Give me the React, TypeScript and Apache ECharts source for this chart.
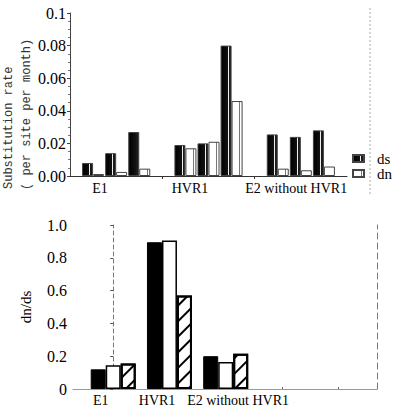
import React, { useEffect, useRef } from 'react';
import * as echarts from 'echarts';

// ---- data ----
const groups = ['E1', 'HVR1', 'E2 without HVR1'];
// substitution rates (per site per month), three pairs per group
const dsRates = [0.008, 0.014, 0.027, 0.019, 0.02, 0.08, 0.0255, 0.024, 0.028];
const dnRates = [0.0012, 0.0025, 0.0045, 0.017, 0.021, 0.046, 0.0045, 0.0035, 0.0058];
// dn/ds ratios, three bars per group
const ratioSolid = [0.12, 0.895, 0.2];
const ratioOpen = [0.145, 0.905, 0.165];
const ratioHatched = [0.155, 0.57, 0.215];
const rateTickLabels = ['0.00', '0.02', '0.04', '0.06', '0.08', '0.1'];
const ratioTickLabels = ['0', '0.2', '0.4', '0.6', '0.8', '1.0'];

const SERIF = 'Liberation Serif';
const MONO = 'Liberation Mono';

// slot index on the upper axis: 3 pairs per group + an empty slot between groups
const slotOf = (i: number) => Math.floor(i / 3) * 4 + (i % 3) + 1;

export default function App() {
  const ref = useRef<HTMLDivElement>(null);
  useEffect(() => {
    if (!ref.current) return;
    const chart = echarts.init(ref.current, undefined, { renderer: 'svg' });
    const dsFill = {
      type: 'linear', x: 0, y: 0, x2: 1, y2: 0,
      colorStops: [
        { offset: 0, color: '#000' }, { offset: 0.68, color: '#111' },
        { offset: 0.68, color: '#eee' }, { offset: 0.76, color: '#eee' },
        { offset: 0.76, color: '#1a1a1a' }, { offset: 1, color: '#1a1a1a' },
      ],
    };
    const dnFill = {
      type: 'linear', x: 0, y: 0, x2: 1, y2: 0,
      colorStops: [
        { offset: 0, color: '#fff' }, { offset: 0.72, color: '#fff' },
        { offset: 0.72, color: '#777' }, { offset: 0.78, color: '#777' },
        { offset: 0.78, color: '#fff' }, { offset: 1, color: '#fff' },
      ],
    };
    const option: any = {
      animation: false,
      backgroundColor: '#fff',
      textStyle: { fontFamily: SERIF },
      grid: [
        { left: 70, top: 13, width: 277, height: 163 },
        { left: 73, top: 225, width: 304, height: 164 },
      ],
      legend: {
        data: ['ds', 'dn'],
        orient: 'vertical',
        left: 352,
        top: 151,
        padding: 0,
        icon: 'rect',
        itemWidth: 11,
        itemHeight: 7,
        itemGap: 0,
        textStyle: { fontFamily: SERIF, fontSize: 15, color: '#000', lineHeight: 14, padding: [0, 0, 0, 8] },
      },
      xAxis: [
        {
          type: 'value', gridIndex: 0, min: 0, max: 12,
          axisLine: { show: true, onZero: false, lineStyle: { color: '#333', width: 1 } },
          splitLine: { show: false },
          axisTick: { show: true, customValues: [4, 8], length: 3, lineStyle: { color: '#333' } },
          axisLabel: {
            customValues: [1.3, 5.2, 9.8],
            formatter: (v: number) => groups[Math.round(v / 4)] ?? '',
            fontFamily: SERIF, fontSize: 14, color: '#000', margin: 5,
          },
        },
        {
          type: 'value', gridIndex: 1, min: -0.715, max: 4.69,
          axisLine: { show: true, onZero: false, lineStyle: { color: '#999', width: 1 } },
          splitLine: { show: false },
          axisTick: { show: true, customValues: [3, 4], length: 2, inside: true, lineStyle: { color: '#666' } },
          axisLabel: {
            customValues: [-0.22, 0.78, 2.22],
            formatter: (v: number) => groups[Math.round(v)] ?? '',
            fontFamily: SERIF, fontSize: 14, color: '#000', margin: 4,
          },
        },
      ],
      yAxis: [
        {
          type: 'value', gridIndex: 0, min: 0, max: 0.1, interval: 0.02,
          axisLine: { show: true, lineStyle: { color: '#444', width: 1 } },
          axisTick: { show: true, length: 3, lineStyle: { color: '#444' } },
          minorTick: { show: true, splitNumber: 4, length: 2, lineStyle: { color: '#777' } },
          splitLine: { show: false },
          axisLabel: {
            formatter: (v: number) => rateTickLabels[Math.round(v / 0.02)] ?? '',
            fontFamily: SERIF, fontSize: 16, color: '#000', margin: 4,
          },
        },
        {
          type: 'value', gridIndex: 1, min: 0, max: 1, interval: 0.2,
          name: 'dn/ds', nameLocation: 'middle', nameGap: 40,
          nameTextStyle: { fontFamily: SERIF, fontSize: 15, color: '#000' },
          axisLine: { show: true, lineStyle: { color: '#777', width: 1, type: [4, 3] } },
          axisTick: { show: true, length: 3, lineStyle: { color: '#555' } },
          splitLine: { show: false },
          axisLabel: {
            formatter: (v: number) => ratioTickLabels[Math.round(v / 0.2)] ?? '',
            fontFamily: SERIF, fontSize: 16, color: '#000', margin: 6,
          },
        },
        {
          type: 'value', gridIndex: 1, position: 'right', min: 0, max: 1,
          axisLine: { show: true, lineStyle: { color: '#777', width: 1, type: [6, 4] } },
          axisTick: { show: false }, axisLabel: { show: false }, splitLine: { show: false },
        },
      ],
      graphic: [
        {
          type: 'line', shape: { x1: 370, y1: 8, x2: 370, y2: 196 },
          style: { stroke: '#aaa', lineWidth: 1, lineDash: [2, 2] },
        },
        {
          type: 'text', x: 9, y: 189, rotation: Math.PI / 2,
          style: { text: 'Substitution rate', fontFamily: MONO, fontSize: 12, fill: '#333', align: 'left', verticalAlign: 'middle' },
        },
        {
          type: 'text', x: 27, y: 190, rotation: Math.PI / 2,
          style: { text: '( per site per month)', fontFamily: MONO, fontSize: 12, fill: '#333', align: 'left', verticalAlign: 'middle' },
        },
      ],
      series: [
        {
          name: 'ds', type: 'bar', xAxisIndex: 0, yAxisIndex: 0, barWidth: 11, barGap: '0%',
          data: dsRates.map((v, i) => [slotOf(i), v]),
          itemStyle: { color: dsFill, borderColor: '#444', borderWidth: 1 },
        },
        {
          name: 'dn', type: 'bar', xAxisIndex: 0, yAxisIndex: 0, barWidth: 11, barGap: '0%',
          data: dnRates.map((v, i) => [slotOf(i), v]),
          itemStyle: { color: dnFill, borderColor: '#444', borderWidth: 1 },
        },
        {
          name: 'solid', type: 'bar', xAxisIndex: 1, yAxisIndex: 1, barWidth: 15, barGap: '0%',
          data: ratioSolid.map((v, i) => [i, v]),
          itemStyle: { color: '#000', borderColor: '#000', borderWidth: 1 },
        },
        {
          name: 'open', type: 'bar', xAxisIndex: 1, yAxisIndex: 1, barWidth: 15, barGap: '0%',
          data: ratioOpen.map((v, i) => [i, v]),
          itemStyle: { color: '#fff', borderColor: '#000', borderWidth: 1.5 },
        },
        {
          name: 'hatched', type: 'bar', xAxisIndex: 1, yAxisIndex: 1, barWidth: 15, barGap: '0%',
          data: ratioHatched.map((v, i) => [i, v]),
          itemStyle: {
            color: '#fff', borderColor: '#000', borderWidth: 2,
            decal: {
              symbol: 'rect', dashArrayX: [1, 0], dashArrayY: [2, 9],
              rotation: -Math.PI / 4, color: '#000', backgroundColor: '#fff',
            },
          },
        },
      ],
    };
    chart.setOption(option);
    return () => chart.dispose();
  }, []);
  return (
    <div
      ref={ref}
      style={{ position: 'absolute', left: 0, top: 0, width: 395, height: 413, background: '#fff' }}
    />
  );
}
